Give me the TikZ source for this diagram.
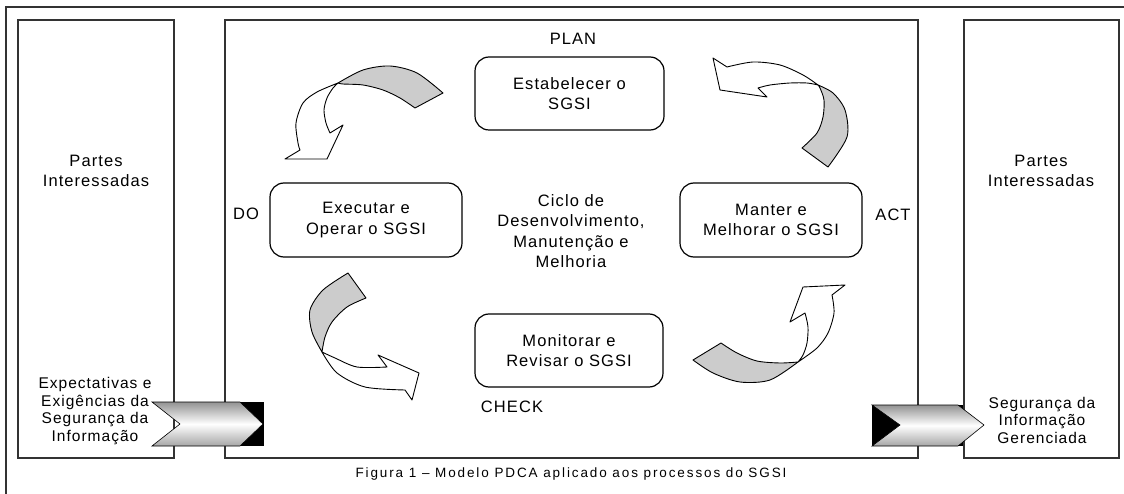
\documentclass[tikz,border=0pt]{standalone}
\usepackage{fontspec}
\setmainfont{Liberation Sans}[LetterSpace=6.5]
\usetikzlibrary{positioning,shadings}
\definecolor{rgray}{HTML}{CCCCCC}
\definecolor{fdark}{HTML}{333333}

\tikzset{
  frame/.style={draw=fdark, line width=1.5pt},
  stagebox/.style={draw, line width=1.2pt, rounded corners=14pt, align=center,
    font=\fontsize{16.5}{20.5}\selectfont, inner sep=0pt},
  lbl/.style={font=\fontsize{16.5}{20.5}\selectfont, align=center, inner sep=0pt},
  small/.style={font=\fontsize{15.5}{17.5}\selectfont, align=center, inner sep=0pt},
  ribbon/.style={draw, line width=0.9pt, fill=rgray, line join=round},
  ribbonw/.style={draw, line width=0.9pt, fill=white, line join=round},
  chevron/.style={draw=black, line width=0.6pt, top color=gray!85, bottom color=gray!70, middle color=white}
}

\begin{document}
\begin{tikzpicture}[x=1pt, y=-1pt]
  \useasboundingbox (0,0) rectangle (1124,494);

  % Outer frame and columns
  \draw[frame] (6,494) -- (6,7) -- (1124,7);
  \draw[frame] (18,20) rectangle (174,458);
  \draw[frame] (225,20) rectangle (918,458);
  \draw[frame] (964,20) rectangle (1119,458);

  % Stages of the cycle
  \node[stagebox, minimum width=189pt, minimum height=73pt] (plan) at (569.5,93.5) {Estabelecer o\\SGSI};
  \node[stagebox, minimum width=192pt, minimum height=74pt] (do) at (366,220) {Executar e\\Operar o SGSI};
  \node[stagebox, minimum width=182pt, minimum height=74pt] (act) at (771,220) {Manter e\\Melhorar o SGSI};
  \node[stagebox, minimum width=188pt, minimum height=73pt] (check) at (569,350.5) {Monitorar e\\Revisar o SGSI};

  \node[lbl] (planlbl) at (573,39) {PLAN};
  \node[lbl] (dolbl) at (246,214) {DO};
  \node[lbl] (actlbl) at (893,215) {ACT};
  \node[lbl] (checklbl) at (512,407) {CHECK};
  \node[lbl] (ciclo) at (571,231) {Ciclo de\\Desenvolvimento,\\Manutenção e\\Melhoria};

  % Side columns
  \node[lbl] (partesA) at (96,171) {Partes\\Interessadas};
  \node[lbl] (partesB) at (1041,171) {Partes\\Interessadas};
  \node[small] (entrada) at (95,411) {Expectativas e\\Exigências da\\Segurança da\\Informação};
  \node[small] (saida) at (1042,420) {Segurança da\\Informação\\Gerenciada};

  % Input / output arrows
  \fill[black] (238,402) rectangle (264,446);
  \path[chevron] (152,402) -- (240,402) -- (263,424) -- (240,446) -- (152,446) -- (180,424) -- cycle;
  \fill[black] (872,405) rectangle (963,446);
  \path[chevron] (872,405) -- (958,405) -- (984,425) -- (958,446) -- (872,446) -- (900,425) -- cycle;

  % PLAN -> DO
  \filldraw[ribbon] plot[smooth] coordinates {(443,93) (417,73) (390,66) (363,70) (338,83)}
    -- plot[smooth] coordinates {(338,83) (343,84) (363,85) (383,90) (400,98) (415,108)} -- cycle;
  \filldraw[ribbonw] plot[smooth] coordinates {(338,83) (317,92) (303,103) (296,123) (298,143) (300,150)}
    -- (285,159) -- (327,159) -- (343,125)
    -- plot[smooth] coordinates {(330,133) (326,123) (324,110) (327,98) (333,88) (338,83)} -- cycle;

  % ACT -> PLAN
  \filldraw[ribbon] plot[smooth] coordinates {(828,167) (847,137) (845,110) (833,93) (818,85)}
    -- plot[smooth] coordinates {(818,85) (820,88) (824,100) (823,117) (817,133) (802,148)} -- cycle;
  \filldraw[ribbonw] plot[smooth] coordinates {(818,85) (803,75) (780,65) (753,62) (727,67)}
    -- (713,58) -- (720,90) -- (767,97)
    -- plot[smooth] coordinates {(758,88) (770,85) (790,83) (807,83) (818,85)} -- cycle;

  % DO -> CHECK
  \filldraw[ribbon] plot[smooth] coordinates {(348,273) (323,290) (310,310) (312,332) (322,352)}
    -- plot[smooth] coordinates {(322,352) (325,337) (332,322) (347,307) (366,298)} -- cycle;
  \filldraw[ribbonw] plot[smooth] coordinates {(322,352) (337,373) (365,387) (405,390)}
    -- (412,400) -- (419,373) -- (378,355)
    -- plot[smooth] coordinates {(387,367) (357,367) (335,358) (322,352)} -- cycle;

  % CHECK -> ACT
  \filldraw[ribbon] plot[smooth] coordinates {(693,360) (713,373) (740,382) (770,380) (798,362)}
    -- plot[smooth] coordinates {(798,362) (780,363) (757,361) (737,353) (721,343)} -- cycle;
  \filldraw[ribbonw] plot[smooth] coordinates {(798,362) (817,348) (828,333) (834,313) (832,295)}
    -- (845,285) -- (803,287) -- (790,322)
    -- plot[smooth] coordinates {(805,313) (808,327) (807,343) (803,355) (798,362)} -- cycle;

  % Caption
  \node[font=\fontsize{13.5}{14}\selectfont\addfontfeature{LetterSpace=14}, inner sep=0pt] (caption) at (571,474) {Figura 1 -- Modelo PDCA aplicado aos processos do SGSI};
\end{tikzpicture}
\end{document}
